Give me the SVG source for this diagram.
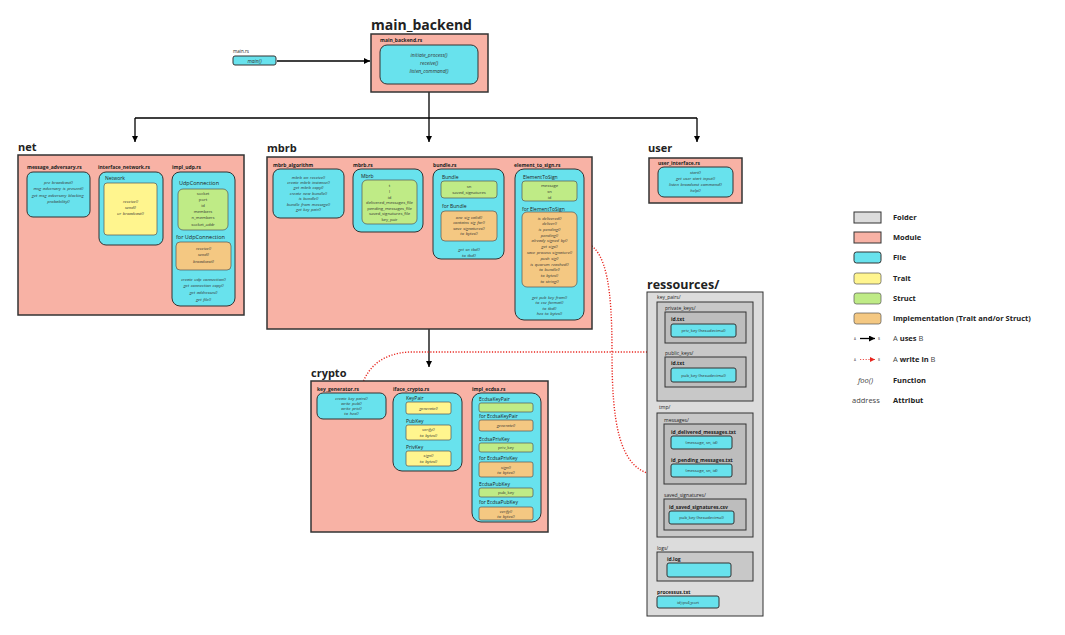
<svg xmlns="http://www.w3.org/2000/svg" width="1065" height="635" viewBox="0 0 1065 635">
<defs>
<marker id="ab" markerUnits="userSpaceOnUse" markerWidth="8" markerHeight="8" refX="6" refY="3" orient="auto"><path d="M0,0 L6,3 L0,6 z" fill="#000"/></marker>
<marker id="ar" markerUnits="userSpaceOnUse" markerWidth="8" markerHeight="8" refX="5" refY="2.5" orient="auto"><path d="M0,0 L5,2.5 L0,5 z" fill="#e8261f"/></marker>
<style>
text{font-family:"Open Sans","Noto Sans","Liberation Sans",sans-serif;fill:#222}
.big{font-size:14px;font-weight:700}
.mt{font-size:11px;font-weight:700}
.rt{font-size:12.5px;font-weight:700}
.fl{font-size:5px;font-weight:700}
.nm{font-size:5px}
.fn{font-size:4.2px;font-style:italic;text-anchor:middle;fill:#333}
.fnb{font-size:5px;font-style:italic;text-anchor:middle;fill:#333}
.at{font-size:4.2px;text-anchor:middle;fill:#333}
.fo{font-size:4.6px;fill:#222}
.lg{font-size:7.5px;font-weight:700}
.ln{font-size:7.5px;font-weight:400;fill:#444}
.mod{fill:#f8b2a5;stroke:#333;stroke-width:1.5}
.file{fill:#68e2ed;stroke:#333;stroke-width:1}
.trait{fill:#fff58e;stroke:#555;stroke-width:0.7}
.struct{fill:#bfeb86;stroke:#555;stroke-width:0.7}
.impl{fill:#f4c882;stroke:#555;stroke-width:0.7}
.fold0{fill:#dcdcdc;stroke:#333;stroke-width:1}
.fold1{fill:#c8c8c8;stroke:#333;stroke-width:1}
.fold2{fill:#bdbdbd;stroke:#333;stroke-width:1}
.cb{fill:none;stroke:#000;stroke-width:1.3}
.cr{fill:none;stroke:#e8261f;stroke-width:1.4;stroke-dasharray:1.2 1.6}
</style>
</defs>
<rect width="1065" height="635" fill="#fff"/>

<g id="connectors">
<path class="cb" d="M277,61 H370" marker-end="url(#ab)"/>
<path class="cb" d="M429,92 V118 M135,118 H697"/>
<path class="cb" d="M135,118 V142" marker-end="url(#ab)"/>
<path class="cb" d="M429,118 V142" marker-end="url(#ab)"/>
<path class="cb" d="M697,118 V142" marker-end="url(#ab)"/>
<path class="cb" d="M429,329 V367" marker-end="url(#ab)"/>
<path class="cr" d="M361,389 C366,368 382,353 410,352 L655,352" marker-end="url(#ar)"/>
<path class="cr" d="M587,243 C607,252 612,290 612,352 C612,420 618,470 655,475" marker-end="url(#ar)"/>
</g>

<g id="main_rs">
<text class="fo" x="233" y="53">main.rs</text>
<rect class="file" x="233" y="56" width="43" height="9" rx="2"/>
<text class="fnb" x="254.5" y="62.5">main()</text>
</g>

<g id="main_backend">
<text class="big" x="371" y="30">main_backend</text>
<rect class="mod" x="371" y="34" width="117" height="58"/>
<text class="fl" x="380" y="42">main_backend.rs</text>
<rect class="file" x="380" y="45" width="98" height="39" rx="7"/>
<text class="fnb" x="429" y="57">initiate_process()</text>
<text class="fnb" x="429" y="65">receive()</text>
<text class="fnb" x="429" y="72.5">listen_command()</text>
</g>

<g id="net">
<text class="mt" x="18" y="151">net</text>
<rect class="mod" x="18" y="155" width="226" height="160"/>
<text class="fl" x="27" y="168.5">message_adversary.rs</text>
<rect class="file" x="27" y="172" width="63" height="45" rx="6"/>
<text class="fn" x="58.5" y="184">pre_broadcast()</text>
<text class="fn" x="58.5" y="190">msg_adversary_is_present()</text>
<text class="fn" x="58.5" y="196.5">get_msg_adversary_blocking_</text>
<text class="fn" x="58.5" y="202.5">probability()</text>
<text class="fl" x="98" y="168.5">interface_network.rs</text>
<rect class="file" x="99" y="172" width="64" height="73" rx="7"/>
<text class="nm" x="105" y="180">Network</text>
<rect class="trait" x="104" y="183" width="53" height="52" rx="3"/>
<text class="fn" x="130.5" y="203">receive()</text>
<text class="fn" x="130.5" y="209">send()</text>
<text class="fn" x="130.5" y="215">ur_broadcast()</text>
<text class="fl" x="172" y="168.5">impl_udp.rs</text>
<rect class="file" x="172" y="172" width="63" height="134" rx="8"/>
<text class="nm" x="179" y="185" style="font-size:5.5px">UdpConnection</text>
<rect class="struct" x="178" y="189" width="50" height="41" rx="5"/>
<text class="at" x="203" y="194.5">socket</text>
<text class="at" x="203" y="200.5">port</text>
<text class="at" x="203" y="206.5">id</text>
<text class="at" x="203" y="212.5">members</text>
<text class="at" x="203" y="219">n_members</text>
<text class="at" x="203" y="225.5">socket_addr</text>
<text class="nm" x="176" y="239" style="font-size:5.5px">for UdpConnection</text>
<rect class="impl" x="176" y="242" width="55" height="28" rx="4"/>
<text class="fn" x="203.5" y="250">receive()</text>
<text class="fn" x="203.5" y="256">send()</text>
<text class="fn" x="203.5" y="262.5">broadcast()</text>
<text class="fn" x="203.5" y="281">create_udp_connection()</text>
<text class="fn" x="203.5" y="287">get_connection_copy()</text>
<text class="fn" x="203.5" y="294">get_addresses()</text>
<text class="fn" x="203.5" y="300.5">get_file()</text>
</g>

<g id="mbrb">
<text class="mt" x="267" y="152">mbrb</text>
<rect class="mod" x="267" y="157" width="325" height="172"/>
<text class="fl" x="273" y="167">mbrb_algorithm</text>
<rect class="file" x="273" y="169" width="71" height="49" rx="7"/>
<text class="fn" x="308.5" y="178.5">mbrb_on_receive()</text>
<text class="fn" x="308.5" y="183.5">create_mbrb_instance()</text>
<text class="fn" x="308.5" y="189">get_mbrb_copy()</text>
<text class="fn" x="308.5" y="194.5">create_new_bundle()</text>
<text class="fn" x="308.5" y="200">is_bundle()</text>
<text class="fn" x="308.5" y="205.5">bundle_from_message()</text>
<text class="fn" x="308.5" y="211">get_key_pair()</text>
<text class="fl" x="353" y="167">mbrb.rs</text>
<rect class="file" x="353" y="169" width="70" height="63" rx="8"/>
<text class="nm" x="361" y="178">Mbrb</text>
<rect class="struct" x="362" y="180" width="55" height="44" rx="5"/>
<text class="at" x="389.5" y="186.5">t</text>
<text class="at" x="389.5" y="192.5">l</text>
<text class="at" x="389.5" y="198.5">id</text>
<text class="at" x="389.5" y="203.5">delivered_messages_file</text>
<text class="at" x="389.5" y="209.5">pending_messages_file</text>
<text class="at" x="389.5" y="215">saved_signatures_file</text>
<text class="at" x="389.5" y="221">key_pair</text>
<text class="fl" x="433" y="167">bundle.rs</text>
<rect class="file" x="433" y="169" width="71" height="90" rx="8"/>
<text class="nm" x="442" y="178.5">Bundle</text>
<rect class="struct" x="441" y="181" width="56" height="17" rx="3"/>
<text class="at" x="469" y="187.5">sn</text>
<text class="at" x="469" y="193.5">saved_signatures</text>
<text class="nm" x="442" y="208">for Bundle</text>
<rect class="impl" x="441" y="211" width="56" height="30" rx="4"/>
<text class="fn" x="469" y="218.5">one_sig_valid()</text>
<text class="fn" x="469" y="224">contains_sig_for()</text>
<text class="fn" x="469" y="229.5">save_signatures()</text>
<text class="fn" x="469" y="235">to_bytes()</text>
<text class="fn" x="469" y="250.5">get_sn_tbd()</text>
<text class="fn" x="469" y="257">to_tbd()</text>
<text class="fl" x="514" y="167">element_to_sign.rs</text>
<rect class="file" x="515" y="169" width="69" height="151" rx="9"/>
<text class="nm" x="523" y="178.5">ElementToSign</text>
<rect class="struct" x="522" y="181" width="55" height="20" rx="3"/>
<text class="at" x="549.5" y="186.5">message</text>
<text class="at" x="549.5" y="192.5">sn</text>
<text class="at" x="549.5" y="198.5">id</text>
<text class="nm" x="522" y="210.5">for ElementToSign</text>
<rect class="impl" x="522" y="212" width="55" height="75" rx="5"/>
<text class="fn" x="549.5" y="219.5">is_delivered()</text>
<text class="fn" x="549.5" y="225">deliver()</text>
<text class="fn" x="549.5" y="230.5">is_pending()</text>
<text class="fn" x="549.5" y="236.5">pending()</text>
<text class="fn" x="549.5" y="242">already_signed_by()</text>
<text class="fn" x="549.5" y="247.5">get_sigs()</text>
<text class="fn" x="549.5" y="254">save_process_signature()</text>
<text class="fn" x="549.5" y="259.5">push_sig()</text>
<text class="fn" x="549.5" y="265.5">is_quorum_reached()</text>
<text class="fn" x="549.5" y="270.5">to_bundle()</text>
<text class="fn" x="549.5" y="276.5">to_bytes()</text>
<text class="fn" x="549.5" y="282.5">to_string()</text>
<text class="fn" x="549.5" y="298.5">get_pub_key_from()</text>
<text class="fn" x="549.5" y="303.5">to_csv_format()</text>
<text class="fn" x="549.5" y="309.5">to_tbd()</text>
<text class="fn" x="549.5" y="315">hex_to_bytes()</text>
</g>

<g id="user">
<text class="mt" x="648" y="152">user</text>
<rect class="mod" x="649" y="158" width="93" height="45"/>
<text class="fl" x="658" y="165">user_interface.rs</text>
<rect class="file" x="658" y="167" width="75" height="30" rx="6"/>
<text class="fn" x="695.5" y="173.5">start()</text>
<text class="fn" x="695.5" y="179.5">get_user_start_input()</text>
<text class="fn" x="695.5" y="185.5">listen_broadcast_command()</text>
<text class="fn" x="695.5" y="192">help()</text>
</g>

<g id="crypto">
<text class="mt" x="311" y="377">crypto</text>
<rect class="mod" x="311" y="381" width="237" height="151"/>
<text class="fl" x="317" y="390.5">key_generator.rs</text>
<rect class="file" x="317" y="393" width="69" height="26" rx="6"/>
<text class="fn" x="351.5" y="399.5">create_key_pairs()</text>
<text class="fn" x="351.5" y="404.5">write_pub()</text>
<text class="fn" x="351.5" y="409.5">write_priv()</text>
<text class="fn" x="351.5" y="415">to_hex()</text>
<text class="fl" x="393" y="390.5">iface_crypto.rs</text>
<rect class="file" x="393" y="393" width="69" height="78" rx="9"/>
<text class="nm" x="406" y="399.5">KeyPair</text>
<rect class="trait" x="406" y="402" width="45" height="12" rx="2"/>
<text class="fn" x="428.5" y="409.5">generate()</text>
<text class="nm" x="406" y="422.5">PubKey</text>
<rect class="trait" x="406" y="425" width="45" height="15" rx="2"/>
<text class="fn" x="428.5" y="431">verify()</text>
<text class="fn" x="428.5" y="436.5">to_bytes()</text>
<text class="nm" x="406" y="448.5">PrivKey</text>
<rect class="trait" x="406" y="451" width="45" height="15" rx="2"/>
<text class="fn" x="428.5" y="457">sign()</text>
<text class="fn" x="428.5" y="463">to_bytes()</text>
<text class="fl" x="472" y="390.5">impl_ecdsa.rs</text>
<rect class="file" x="472" y="393" width="69" height="129" rx="9"/>
<text class="nm" x="479" y="400.5">EcdsaKeyPair</text>
<rect class="struct" x="479" y="403" width="54" height="9" rx="2"/>
<text class="nm" x="479" y="418">for EcdsaKeyPair</text>
<rect class="impl" x="479" y="420" width="54" height="11" rx="2"/>
<text class="fn" x="506" y="427">generate()</text>
<text class="nm" x="479" y="441">EcdsaPrivKey</text>
<rect class="struct" x="479" y="443" width="54" height="9" rx="2"/>
<text class="at" x="506" y="449">priv_key</text>
<text class="nm" x="479" y="460">for EcdsaPrivKey</text>
<rect class="impl" x="479" y="462" width="54" height="15" rx="2"/>
<text class="fn" x="506" y="468.5">sign()</text>
<text class="fn" x="506" y="474">to_bytes()</text>
<text class="nm" x="479" y="485.5">EcdsaPubKey</text>
<rect class="struct" x="479" y="488" width="54" height="9" rx="2"/>
<text class="at" x="506" y="494">pub_key</text>
<text class="nm" x="479" y="504">for EcdsaPubKey</text>
<rect class="impl" x="479" y="507" width="54" height="13" rx="2"/>
<text class="fn" x="506" y="513">verify()</text>
<text class="fn" x="506" y="518">to_bytes()</text>
</g>

<g id="ressources">
<text class="rt" x="647" y="289">ressources/</text>
<rect class="fold0" x="647" y="292" width="116" height="324"/>
<text class="nm" x="657" y="298.5">key_pairs/</text>
<rect class="fold1" x="657" y="302" width="96" height="99"/>
<text class="nm" x="665" y="310">private_keys/</text>
<rect class="fold2" x="665" y="312" width="81" height="31"/>
<text class="fl" x="671" y="321">id.txt</text>
<rect class="file" x="671" y="324" width="65" height="13" rx="2"/>
<text class="at" x="703.5" y="332">priv_key (hexadecimal)</text>
<text class="nm" x="665" y="354.5">public_keys/</text>
<rect class="fold2" x="665" y="357" width="81" height="30"/>
<text class="fl" x="671" y="365">id.txt</text>
<rect class="file" x="671" y="368" width="65" height="14" rx="2"/>
<text class="at" x="703.5" y="376.5">pub_key (hexadecimal)</text>
<text class="nm" x="659" y="409">tmp/</text>
<rect class="fold1" x="657" y="413" width="96" height="124"/>
<text class="nm" x="664" y="422">messages/</text>
<rect class="fold2" x="664" y="424" width="82" height="60"/>
<text class="fl" x="671" y="434">id_delivered_messages.txt</text>
<rect class="file" x="671" y="436" width="61" height="13" rx="2"/>
<text class="at" x="701.5" y="444">(message, sn, id)</text>
<text class="fl" x="671" y="461.5">id_pending_messages.txt</text>
<rect class="file" x="671" y="464" width="61" height="13" rx="2"/>
<text class="at" x="701.5" y="472">(message, sn, id)</text>
<text class="nm" x="664" y="496.5">saved_signatures/</text>
<rect class="fold2" x="664" y="499" width="82" height="31"/>
<text class="fl" x="669" y="508.5">id_saved_signatures.csv</text>
<rect class="file" x="669" y="511" width="65" height="13" rx="2"/>
<text class="at" x="701.5" y="519">pub_key (hexadecimal)</text>
<text class="nm" x="657" y="549.5">logs/</text>
<rect class="fold1" x="657" y="552" width="96" height="29"/>
<text class="fl" x="667" y="560.5">id.log</text>
<rect class="file" x="667" y="563" width="64" height="14" rx="2"/>
<text class="fl" x="657" y="593.5">processus.txt</text>
<rect class="file" x="657" y="596" width="62" height="12" rx="2"/>
<text class="at" x="688" y="603.5">id;ipv4;port</text>
</g>

<g id="legend">
<rect class="fold0" x="854" y="212" width="27" height="11"/>
<text class="lg" x="893" y="220">Folder</text>
<rect class="mod" x="854" y="232" width="27" height="11" style="stroke-width:1"/>
<text class="lg" x="893" y="240">Module</text>
<rect class="file" x="854" y="252" width="27" height="11" rx="2.5"/>
<text class="lg" x="893" y="260">File</text>
<rect class="trait" x="854" y="273" width="27" height="11" rx="2.5"/>
<text class="lg" x="893" y="281">Trait</text>
<rect class="struct" x="854" y="293" width="27" height="11" rx="2.5"/>
<text class="lg" x="893" y="301">Struct</text>
<rect class="impl" x="854" y="313" width="27" height="11" rx="2.5"/>
<text class="lg" x="893" y="321">Implementation (Trait and/or Struct)</text>
<text x="854" y="339.5" style="font-size:3px;fill:#444">A</text>
<path d="M860,338.5 H875" stroke="#000" stroke-width="1.3" marker-end="url(#ab)"/>
<text x="878" y="339.5" style="font-size:3px;fill:#444">B</text>
<text class="ln" x="893" y="341">A <tspan style="font-weight:700;fill:#222">uses</tspan> B</text>
<text x="854" y="360.5" style="font-size:3px;fill:#444">A</text>
<path class="cr" d="M860,359.5 H875" marker-end="url(#ar)" style="stroke-width:0.8"/>
<text x="878" y="360.5" style="font-size:3px;fill:#444">B</text>
<text class="ln" x="893" y="362">A <tspan style="font-weight:700;fill:#222">write in</tspan> B</text>
<text x="858" y="382.5" style="font-size:7.5px;font-style:italic;fill:#444">foo()</text>
<text class="lg" x="893" y="383">Function</text>
<text x="852" y="402.5" style="font-size:7.5px;fill:#444">address</text>
<text class="lg" x="893" y="403">Attribut</text>
</g>
</svg>
